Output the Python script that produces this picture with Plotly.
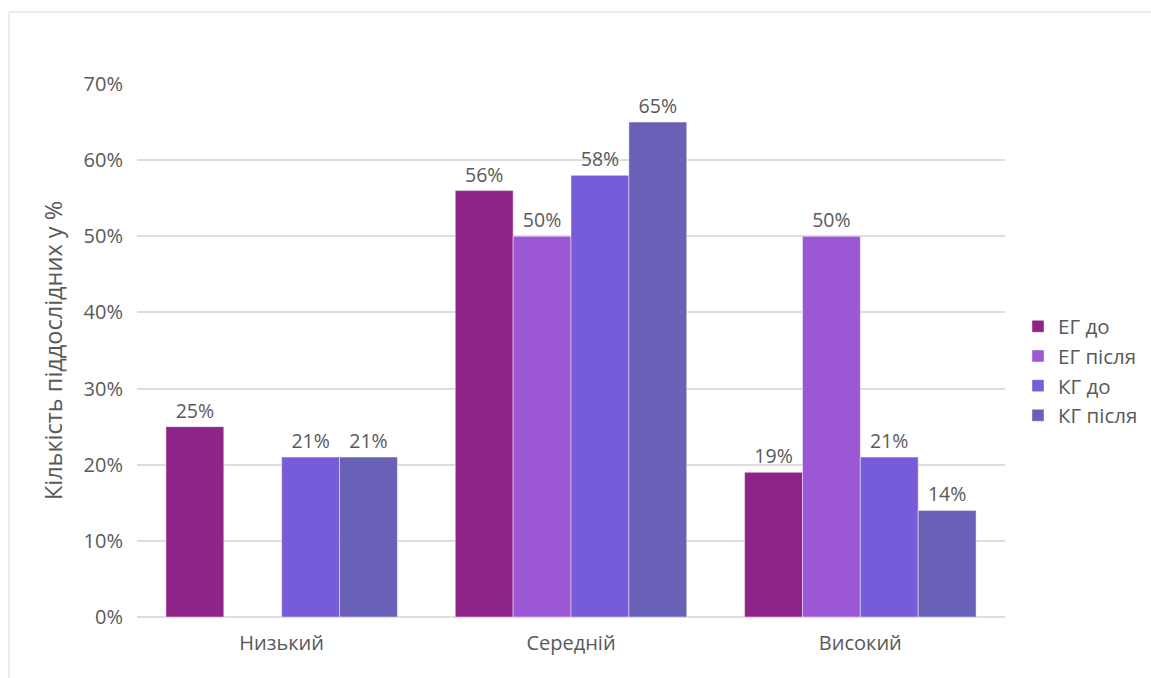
import plotly.graph_objects as go

categories = ["Низький", "Середній", "Високий"]
series_names = ["ЕГ до", "ЕГ після", "КГ до", "КГ після"]
eg_do = [25, 56, 19]
eg_pislia = [None, 50, 50]
kg_do = [21, 58, 21]
kg_pislia = [21, 65, 14]
y_ticks = [0, 10, 20, 30, 40, 50, 60, 70]
y_tick_labels = [f"{v}%" for v in y_ticks]

series_values = [eg_do, eg_pislia, kg_do, kg_pislia]
colors = ["#8e2488", "#9c57d4", "#775cd9", "#6960b8"]

W, H = 1151, 678
L, R, T, B = 137, 146, 84, 61

fig = go.Figure()
for name, vals, col in zip(series_names, series_values, colors):
    fig.add_trace(go.Bar(
        x=categories, y=vals, name=name,
        marker=dict(color=col, line=dict(color="rgba(255,255,255,0.45)", width=1)),
        text=[f"{v}%" if v is not None else "" for v in vals],
        textposition="outside", cliponaxis=False,
        textfont=dict(family="Open Sans", size=19.5, color="#595959"),
    ))

pw = W - L - R
ph = H - T - B
def px(x):
    return (x - L) / pw
def py(y):
    return (H - B - y) / ph

fig.update_layout(
    width=W, height=H,
    margin=dict(l=L, r=R, t=T, b=B, autoexpand=False),
    paper_bgcolor="white", plot_bgcolor="white",
    barmode="group", bargap=0.2, bargroupgap=0,
    font=dict(family="Open Sans", color="#595959"),
    showlegend=True,
    legend=dict(x=px(1018), y=py(371), xanchor="left", yanchor="middle",
                font=dict(size=20.5, color="#595959"), tracegroupgap=0,
                itemwidth=30),
    xaxis=dict(showgrid=False, showline=False, ticks="",
               ticklabelstandoff=12,
               tickfont=dict(size=20, color="#595959")),
    yaxis=dict(range=[0, 70], tickvals=y_ticks, ticktext=y_tick_labels,
               showgrid=True, gridcolor="#dedede", gridwidth=1.5,
               zeroline=True, zerolinecolor="#dedede", zerolinewidth=1.5,
               showline=False, ticks="", ticklen=0,
               ticklabelstandoff=13,
               tickfont=dict(size=20, color="#595959"),
               title=dict(text="Кількість піддослідних у %", standoff=14,
                          font=dict(size=23.5, color="#595959"))),
    shapes=[
        dict(type="line", xref="paper", yref="paper",
             x0=px(9), x1=px(W), y0=py(12), y1=py(12),
             line=dict(color="#e4e4e4", width=1.5)),
        dict(type="line", xref="paper", yref="paper",
             x0=px(9), x1=px(9), y0=py(12), y1=py(H),
             line=dict(color="#e4e4e4", width=1.5)),
    ],
)

fig.write_html("out.html")
